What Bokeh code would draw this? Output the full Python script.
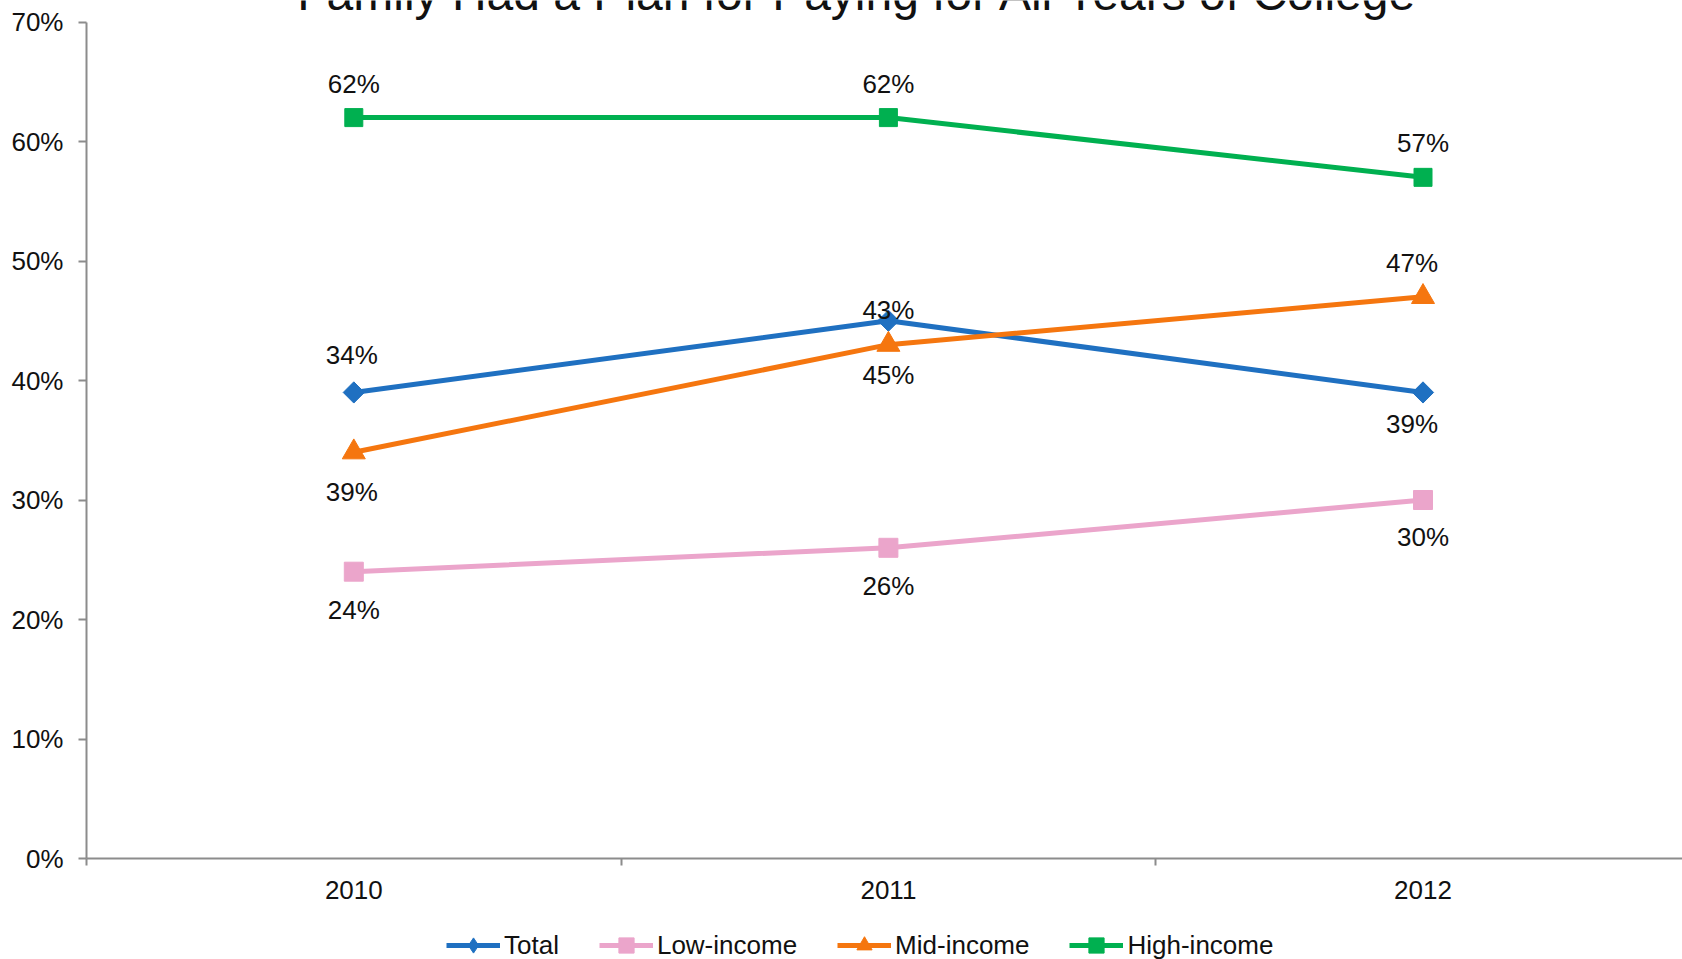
import numpy as np
from bokeh.plotting import figure
from bokeh.layouts import column
from bokeh.models import (Range1d, FixedTicker, PrintfTickFormatter, Legend, LegendItem,
                          Label, ColumnDataSource)
from bokeh.core.properties import value
from bokeh.embed import file_html
from bokeh.resources import INLINE

# ---------------- data ----------------
years = ["2010", "2011", "2012"]
total = [39, 45, 39]
low_income = [24, 26, 30]
mid_income = [34, 43, 47]
high_income = [62, 62, 57]

# data-label texts as printed on the original chart
total_labels = ["34%", "43%", "39%"]
low_labels = ["24%", "26%", "30%"]
mid_labels = ["39%", "45%", "47%"]
high_labels = ["62%", "62%", "57%"]

title_text = "Family Had a Plan for Paying for All Years of College"
series_names = ["Total", "Low-income", "Mid-income", "High-income"]

# ---------------- styles / positions ----------------
FONT = "Liberation Sans"
colors = ["#1F70C1", "#EBA5CB", "#F5760F", "#00B050"]
label_dy = {  # screen px, positive = down
    "Total": [-37, -11, 32],
    "Low-income": [38, 38, 37],
    "Mid-income": [40, 30, -34],
    "High-income": [-34, -34, -34],
}
label_dx = {
    "Total": [-2, 0, -11],
    "Low-income": [0, 0, 0],
    "Mid-income": [-2, 0, -11],
    "High-income": [0, 0, 0],
}

W, H = 1682, 959
LEFT, BOTTOM = 86, 50
AXIS_Y = 858          # pixel row of the 0% line
TOP_PX = 21.5         # pixel row of the 70% tick
MAIN_H = AXIS_Y + BOTTOM
LEG_H = H - MAIN_H
frame_w = W - LEFT
cat_w = 534.6
xs = [i + 0.5 for i in range(len(years))]
x_end = frame_w / cat_w
y_max = 70
y_end = y_max * AXIS_Y / (AXIS_Y - TOP_PX)

p = figure(width=W, height=MAIN_H, output_backend="svg", toolbar_location=None,
           x_range=Range1d(0, x_end), y_range=Range1d(0, y_end),
           min_border_left=LEFT, min_border_right=0, min_border_top=0,
           min_border_bottom=BOTTOM)
p.outline_line_color = None
p.xgrid.visible = False
p.ygrid.visible = False
p.background_fill_color = "white"
p.border_fill_color = "white"

# axes
AX = "#8C8C8C"
p.xaxis.ticker = FixedTicker(ticks=xs, minor_ticks=list(range(len(years) + 1)))
p.xaxis.major_label_overrides = {x: y for x, y in zip(xs, years)}
p.xaxis.major_tick_line_color = None
p.xaxis.major_tick_out = 0
p.xaxis.major_tick_in = 0
p.xaxis.minor_tick_out = 7
p.xaxis.minor_tick_in = 0
p.xaxis.minor_tick_line_color = AX
p.xaxis.minor_tick_line_width = 2
p.xaxis.axis_line_color = AX
p.xaxis.axis_line_width = 2
p.xaxis.major_label_standoff = 15
p.xaxis.major_label_text_font = FONT
p.xaxis.major_label_text_font_size = "26px"
p.xaxis.major_label_text_color = "#111111"

p.yaxis.ticker = FixedTicker(ticks=list(range(0, y_max + 1, 10)))
p.yaxis.bounds = (0, y_max)
p.yaxis.formatter = PrintfTickFormatter(format="%d%%")
p.yaxis.major_tick_out = 8
p.yaxis.major_tick_in = 0
p.yaxis.minor_tick_line_color = None
p.yaxis.major_tick_line_color = AX
p.yaxis.major_tick_line_width = 2
p.yaxis.axis_line_color = AX
p.yaxis.axis_line_width = 2
p.yaxis.major_label_standoff = 15
p.yaxis.major_label_text_font = FONT
p.yaxis.major_label_text_font_size = "26px"
p.yaxis.major_label_text_color = "#111111"

series = [total, low_income, mid_income, high_income]
labels = [total_labels, low_labels, mid_labels, high_labels]
marker_specs = [
    dict(marker="square", angle=np.pi / 4, size=15, leg_marker="diamond"),
    dict(marker="square", angle=0, size=19, leg_marker="square"),
    dict(marker="triangle", angle=0, size=23, leg_marker="triangle"),
    dict(marker="square", angle=0, size=18, leg_marker="square"),
]

# legend lives in its own strip below the chart (series drawn there fall outside its view)
pl = figure(width=W, height=LEG_H, output_backend="svg", toolbar_location=None,
            x_range=Range1d(-2, -1), y_range=Range1d(0, 1),
            x_axis_location=None, y_axis_location=None,
            min_border=0, outline_line_color=None)
pl.xgrid.visible = False
pl.ygrid.visible = False

items = []
for name, vals, labs, col, ms in zip(series_names, series, labels, colors, marker_specs):
    src = ColumnDataSource(dict(x=xs, y=vals, lab=labs,
                                dx=label_dx[name], dy=label_dy[name]))
    p.line("x", "y", source=src, line_color=col, line_width=5)
    p.scatter("x", "y", source=src, marker=ms["marker"], angle=ms["angle"],
              size=ms["size"], fill_color=col, line_color=col)
    p.text("x", "y", text="lab", source=src, x_offset="dx", y_offset="dy",
           text_align="center", text_baseline="middle",
           text_font=value(FONT), text_font_size="26px", text_color="#111111")
    lr = pl.line("x", "y", source=src, line_color=col, line_width=5)
    sr = pl.scatter("x", "y", source=src, marker=ms["leg_marker"],
                    size=ms["size"], fill_color=col, line_color=col)
    items.append(LegendItem(label=name, renderers=[lr, sr]))

legend = Legend(items=items, orientation="horizontal", location=(360, -5),
                glyph_width=54, glyph_height=38, label_standoff=4, spacing=40,
                padding=0, margin=0, border_line_color=None,
                background_fill_alpha=0, label_text_font=FONT,
                label_text_font_size="26px", label_text_color="#111111")
pl.add_layout(legend)

title = Label(x=x_end * (857.5 - LEFT) / frame_w, y=y_max, y_offset=2,
              text=title_text, text_align="center", text_baseline="bottom",
              text_font=FONT, text_font_size="48px", text_color="#111111")
p.add_layout(title)

layout = column(p, pl, spacing=0)
open("out.html", "w").write(file_html(layout, INLINE))
